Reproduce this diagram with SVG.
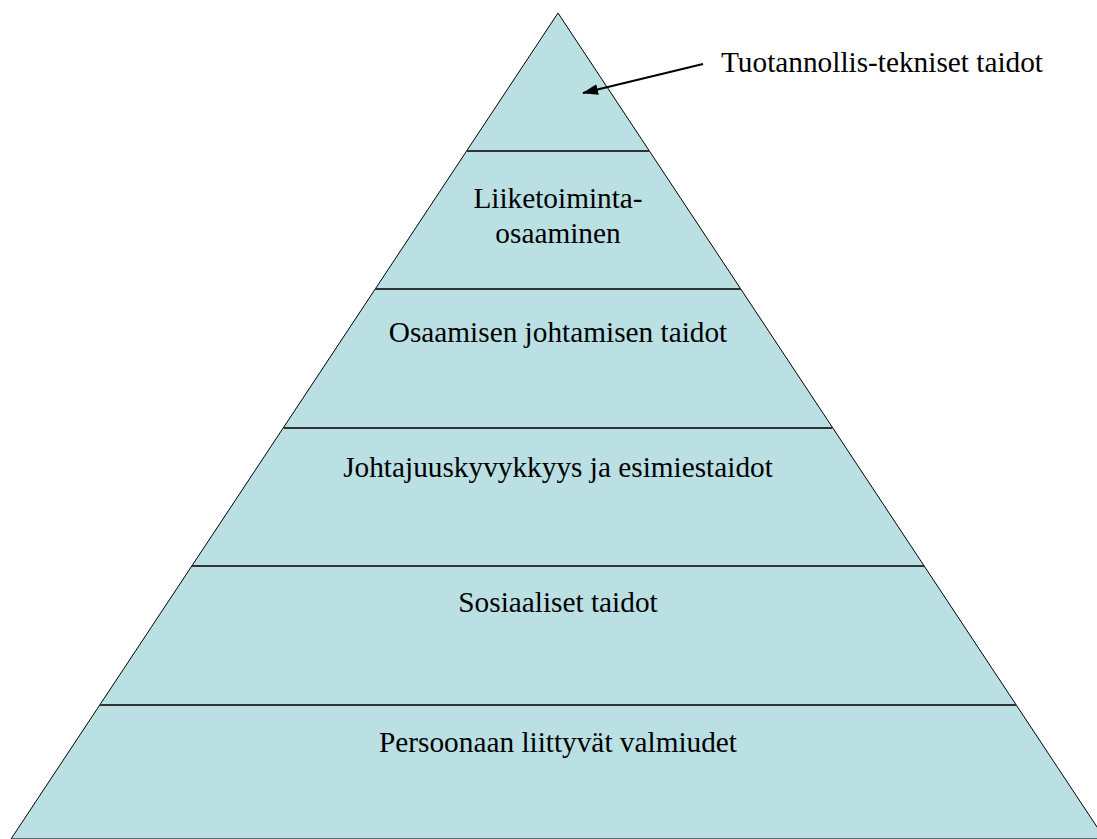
<svg xmlns="http://www.w3.org/2000/svg" width="1097" height="839" viewBox="0 0 1097 839">
<style>
text{font-family:"Liberation Serif","Times New Roman",serif;font-size:29.3px;fill:#000;text-anchor:middle}
.div{stroke:#333;stroke-width:2}
</style>
<defs>
<marker id="ah" markerWidth="16" markerHeight="11" refX="15" refY="5.5" orient="auto" markerUnits="userSpaceOnUse" viewBox="0 0 16 11">
<path d="M0,0 L16,5.5 L0,11 z" fill="#000"/>
</marker>
</defs>
<rect width="1097" height="839" fill="#fff"/>
<g id="pyramid">
<polygon points="558,13 1105,839 11,839" fill="#BBE0E3" stroke="#000" stroke-width="1"/>
</g>
<g id="dividers">
<line class="div" x1="467" y1="151" x2="649" y2="151"/>
<line class="div" x1="375" y1="289" x2="741" y2="289"/>
<line class="div" x1="284" y1="428" x2="832" y2="428"/>
<line class="div" x1="192" y1="566" x2="924" y2="566"/>
<line class="div" x1="100" y1="705" x2="1016" y2="705"/>
</g>
<g id="level1"><text x="882" y="72">Tuotannollis-tekniset taidot</text></g>
<g id="level2"><text x="558" y="208">Liiketoiminta-</text><text x="558" y="243">osaaminen</text></g>
<g id="level3"><text x="558" y="342">Osaamisen johtamisen taidot</text></g>
<g id="level4"><text x="558" y="477">Johtajuuskyvykkyys ja esimiestaidot</text></g>
<g id="level5"><text x="558" y="612">Sosiaaliset taidot</text></g>
<g id="level6"><text x="558" y="752">Persoonaan liittyvät valmiudet</text></g>
<g id="connectors">
<line x1="703" y1="64" x2="583" y2="93" stroke="#000" stroke-width="2" marker-end="url(#ah)"/>
</g>
</svg>
